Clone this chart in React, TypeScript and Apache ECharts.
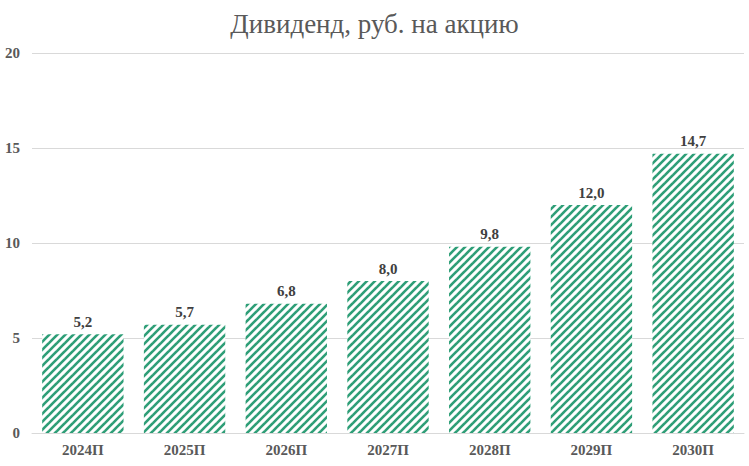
import React, { useEffect, useRef } from "react";
import * as echarts from "echarts";

const categories = ["2024П", "2025П", "2026П", "2027П", "2028П", "2029П", "2030П"];
const dividends = [5.2, 5.7, 6.8, 8.0, 9.8, 12.0, 14.7];
const titleText = "Дивиденд, руб. на акцию";

function makeHatch(): HTMLCanvasElement {
  const size = 8;
  const c = document.createElement("canvas");
  c.width = size;
  c.height = size;
  const ctx = c.getContext("2d")!;
  ctx.fillStyle = "#ffffff";
  ctx.fillRect(0, 0, size, size);
  ctx.strokeStyle = "#2E9E77";
  ctx.lineWidth = 2.6;
  ctx.lineCap = "square";
  for (let k = -1; k <= 1; k++) {
    ctx.beginPath();
    ctx.moveTo(k * size - 1, size + 1);
    ctx.lineTo(k * size + size + 1, -1);
    ctx.stroke();
  }
  return c;
}

const serif = "'Liberation Serif', 'Times New Roman', serif";

export default function App() {
  const ref = useRef<HTMLDivElement>(null);
  useEffect(() => {
    if (!ref.current) return;
    const chart = echarts.init(ref.current, null, { renderer: "svg" });
    const hatch = makeHatch();
    chart.setOption({
      animation: false,
      backgroundColor: "#ffffff",
      title: {
        text: titleText,
        left: "center",
        top: 5,
        textStyle: {
          fontFamily: serif,
          fontSize: 27,
          fontWeight: "normal",
          color: "#595959",
        },
      },
      grid: { left: 32, right: 5, top: 53, bottom: 33 },
      xAxis: {
        type: "category",
        data: categories,
        axisLine: { show: true, lineStyle: { color: "#d9d9d9", width: 1 } },
        axisTick: { show: false },
        axisLabel: {
          margin: 9,
          fontFamily: serif,
          fontSize: 15,
          fontWeight: "bold",
          color: "#595959",
        },
      },
      yAxis: {
        type: "value",
        min: 0,
        max: 20,
        interval: 5,
        axisLine: { show: false },
        axisTick: { show: false },
        splitLine: { lineStyle: { color: "#d9d9d9", width: 1 } },
        axisLabel: {
          margin: 12,
          fontFamily: serif,
          fontSize: 15,
          fontWeight: "bold",
          color: "#595959",
        },
      },
      series: [
        {
          type: "bar",
          data: dividends,
          barCategoryGap: "20%",
          itemStyle: {
            color: { image: hatch, repeat: "repeat" } as any,
          },
          label: {
            show: true,
            position: "top",
            distance: 5,
            fontFamily: serif,
            fontSize: 15,
            fontWeight: "bold",
            color: "#404040",
            formatter: (p: any) => Number(p.value).toFixed(1).replace(".", ","),
          },
        },
      ],
    });
    return () => chart.dispose();
  }, []);
  return <div ref={ref} style={{ width: 749, height: 466, position: "absolute", left: 0, top: 0 }} />;
}
